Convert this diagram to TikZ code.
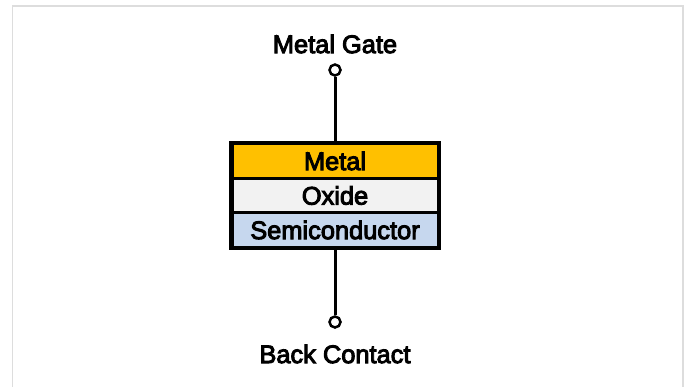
\documentclass[tikz,border=0pt]{standalone}
\usepackage{fontspec}
\setmainfont{Liberation Sans}
\newcommand\semib[1]{\special{pdf:literal direct 2 Tr 0.95 w 0 G}#1\special{pdf:literal direct 0 Tr}}
\definecolor{metalc}{HTML}{FFC000}
\definecolor{oxidec}{HTML}{F2F2F2}
\definecolor{semic}{HTML}{C6D7EE}
\definecolor{framec}{HTML}{DDDDDD}
\begin{document}
\begin{tikzpicture}[x=1bp,y=-1bp,
  layer/.style={draw=black, line width=3bp, minimum width=206bp, minimum height=34.5bp, inner sep=0pt, font=\fontsize{25.5}{28}\selectfont},
  term/.style={circle, draw=black, fill=white, line width=2.5bp, minimum size=11bp, inner sep=0pt},
  lbl/.style={font=\fontsize{25.5}{28}\selectfont, inner sep=0pt},
  wire/.style={line width=3bp}]
\useasboundingbox (0,0) rectangle (688,386);
\draw[framec, line width=1.5bp] (12.5,400) -- (12.5,6) -- (683,6) -- (683,400);
\node[layer, fill=semic] (semi) at (335,230) {\semib{Semiconductor}};
\node[layer, fill=oxidec] (oxide) at (335,195.5) {\semib{Oxide}};
\node[layer, fill=metalc] (metal) at (335,161) {\semib{Metal}};
\draw[line width=3bp] (metal.north west) rectangle (semi.south east);
\node[term] (gate) at (335,70) {};
\node[term] (back) at (335,322) {};
\draw[wire] (gate) -- (metal.north);
\draw[wire] (semi.south) -- (back);
\node[lbl] (gatelbl) at (335,44) {\semib{Metal Gate}};
\node[lbl] (backlbl) at (335,354) {\semib{Back Contact}};
\end{tikzpicture}
\end{document}
